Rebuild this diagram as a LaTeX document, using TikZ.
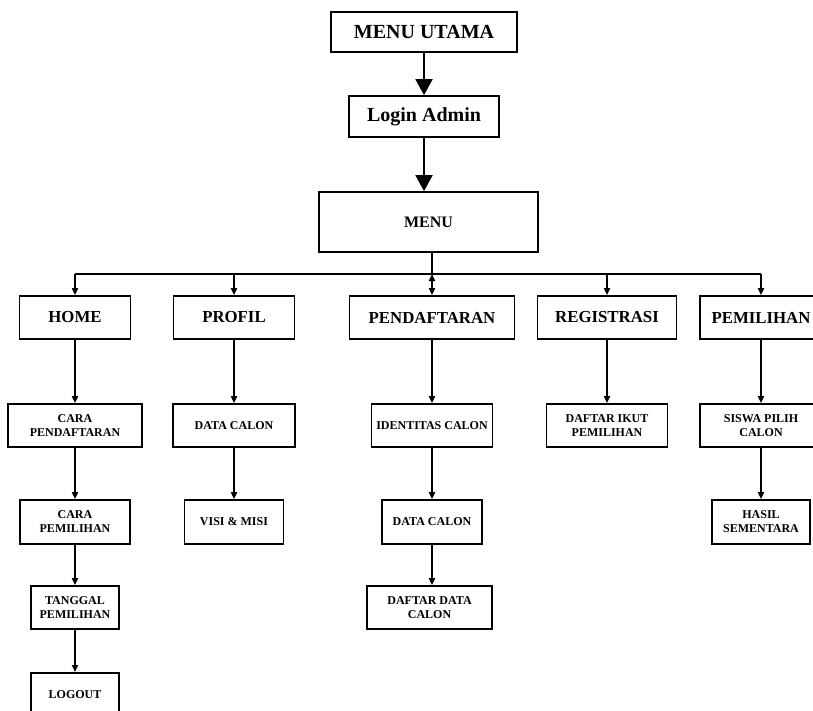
\documentclass[tikz,border=0pt]{standalone}
\usepackage{fontspec}
\setmainfont{Liberation Serif}
\usetikzlibrary{arrows.meta}

\tikzset{smalltip/.tip={Triangle[width=6pt,length=7pt]}}

\begin{document}
\begin{tikzpicture}[x=1pt,y=-1pt,
  box/.style={draw, line width=1.7pt, inner sep=0pt, align=center},
  bigbox/.style={box, font=\fontsize{20}{23}\selectfont\bfseries},
  menubox/.style={box, font=\fontsize{16}{19}\selectfont\bfseries},
  midbox/.style={box, font=\fontsize{16.8}{19}\selectfont\bfseries},
  smallbox/.style={box, font=\fontsize{12}{14}\selectfont\bfseries},
  bigarrow/.style={line width=1.9pt, -{Triangle[width=17pt,length=16pt]}},
  smallarrow/.style={line width=1.7pt, -smalltip},
  busline/.style={line width=1.7pt}]

\useasboundingbox (0,0) rectangle (813,710);
\clip (0,0) rectangle (813,710);

% main entry chain
\node[bigbox, minimum width=186pt, minimum height=40pt] (utama) at (424,32) {MENU UTAMA};
\node[bigbox, minimum width=150pt, minimum height=41pt] (login) at (424,116.5) {Login Admin};
\node[menubox, minimum width=219pt, minimum height=60pt] (menu) at (428.5,222) {MENU};

\draw[bigarrow] (utama.south) -- (utama.south |- login.north);
\draw[bigarrow] (login.south) -- (login.south |- menu.north);

% first level
\node[midbox, minimum width=111pt, minimum height=43pt] (home)   at (75,317.5)  {HOME};
\node[midbox, minimum width=121pt, minimum height=43pt] (profil) at (234,317.5) {PROFIL};
\node[midbox, minimum width=165pt, minimum height=43pt] (pend)   at (432,317.5) {PENDAFTARAN};
\node[midbox, minimum width=139pt, minimum height=43pt] (reg)    at (607,317.5) {REGISTRASI};
\node[midbox, minimum width=122pt, minimum height=43pt] (pem)    at (761,317.5) {PEMILIHAN};

% distribution bus
\coordinate (jn) at (432,274);
\draw[busline] (menu.south -| jn) -- (jn);
\draw[busline] (jn -| home) -- (jn -| pem);
\draw[smallarrow] (jn -| home) -- (home.north);
\draw[smallarrow] (jn -| profil) -- (profil.north);
\draw[line width=1.7pt, smalltip-smalltip] (jn) -- (pend.north);
\draw[smallarrow] (jn -| reg) -- (reg.north);
\draw[smallarrow] (jn -| pem) -- (pem.north);

% HOME column
\node[smallbox, minimum width=134pt, minimum height=43pt] (carapend) at (75,425.5) {CARA\\PENDAFTARAN};
\node[smallbox, minimum width=110pt, minimum height=44pt] (carapem)  at (75,522)   {CARA\\PEMILIHAN};
\node[smallbox, minimum width=88pt,  minimum height=43pt] (tanggal)  at (75,607.5) {TANGGAL\\PEMILIHAN};
\node[smallbox, minimum width=88pt,  minimum height=43pt, anchor=north] (logout) at (75,672) {LOGOUT};
\draw[smallarrow] (home.south) -- (home.south |- carapend.north);
\draw[smallarrow] (carapend.south) -- (carapend.south |- carapem.north);
\draw[smallarrow] (carapem.south) -- (carapem.south |- tanggal.north);
\draw[smallarrow] (tanggal.south) -- (tanggal.south |- logout.north);

% PROFIL column
\node[smallbox, minimum width=122pt, minimum height=43pt] (dcalon) at (234,425.5) {DATA CALON};
\node[smallbox, minimum width=99pt,  minimum height=44pt] (visi)   at (234,522) {VISI \& MISI};
\draw[smallarrow] (profil.south) -- (profil.south |- dcalon.north);
\draw[smallarrow] (dcalon.south) -- (dcalon.south |- visi.north);

% PENDAFTARAN column
\node[smallbox, minimum width=121pt, minimum height=43pt] (ident)   at (432,425.5) {IDENTITAS CALON};
\node[smallbox, minimum width=100pt, minimum height=44pt] (dcalonb) at (432,522)   {DATA CALON};
\node[smallbox, minimum width=125pt, minimum height=43pt] (daftard) at (429.5,607.5) {DAFTAR DATA\\CALON};
\draw[smallarrow] (pend.south) -- (pend.south |- ident.north);
\draw[smallarrow] (ident.south) -- (ident.south |- dcalonb.north);
\draw[smallarrow] (dcalonb.south) -- (dcalonb.south |- daftard.north);

% REGISTRASI column
\node[smallbox, minimum width=121pt, minimum height=43pt] (ikut) at (607,425.5) {DAFTAR IKUT\\PEMILIHAN};
\draw[smallarrow] (reg.south) -- (reg.south |- ikut.north);

% PEMILIHAN column
\node[smallbox, minimum width=122pt, minimum height=43pt] (siswa) at (761,425.5) {SISWA PILIH\\CALON};
\node[smallbox, minimum width=98pt,  minimum height=44pt] (hasil) at (761,522)   {HASIL\\SEMENTARA};
\draw[smallarrow] (pem.south) -- (pem.south |- siswa.north);
\draw[smallarrow] (siswa.south) -- (siswa.south |- hasil.north);

\end{tikzpicture}
\end{document}
